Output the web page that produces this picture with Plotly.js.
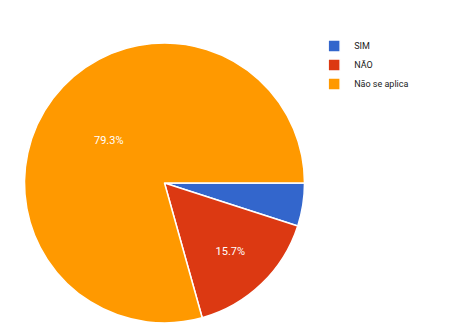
<!DOCTYPE html>
<html>
<head>
<meta charset="utf-8">
<script src="https://cdn.plot.ly/plotly-3.0.1.min.js"></script>
<style>html,body{margin:0;padding:0;background:#fff;}#chart{width:452px;height:331px;}</style>
</head>
<body>
<div id="chart"></div>
<script>
const categories = ['SIM', 'NÃO', 'Não se aplica'];
const counts = [6, 19, 96];
const colors = ['#3366cc', '#dc3912', '#ff9900'];

const trace = {
  type: 'pie',
  labels: categories,
  values: counts,
  sort: false,
  direction: 'clockwise',
  rotation: 90,
  marker: {colors: colors, line: {color: '#ffffff', width: 1.5}},
  texttemplate: ['', '%{percent:.1%}', '%{percent:.1%}'],
  textposition: 'inside',
  insidetextorientation: 'horizontal',
  textfont: {color: '#ffffff', size: 11, family: 'Roboto, Arial, sans-serif'},
  hoverinfo: 'label+percent',
  domain: {x: [0.0509, 0.6770], y: [0.0242, 0.870]}
};

const layout = {
  width: 452, height: 331,
  margin: {l: 0, r: 0, t: 0, b: 0},
  paper_bgcolor: '#ffffff',
  showlegend: true,
  legend: {
    x: 0.695, y: 0.905, xanchor: 'left', yanchor: 'top',
    font: {size: 9, color: '#222222', family: 'Roboto, Arial, sans-serif'},
    itemwidth: 30, tracegroupgap: 0
  }
};

Plotly.newPlot('chart', [trace], layout, {displayModeBar: false, staticPlot: true});
</script>
</body>
</html>
